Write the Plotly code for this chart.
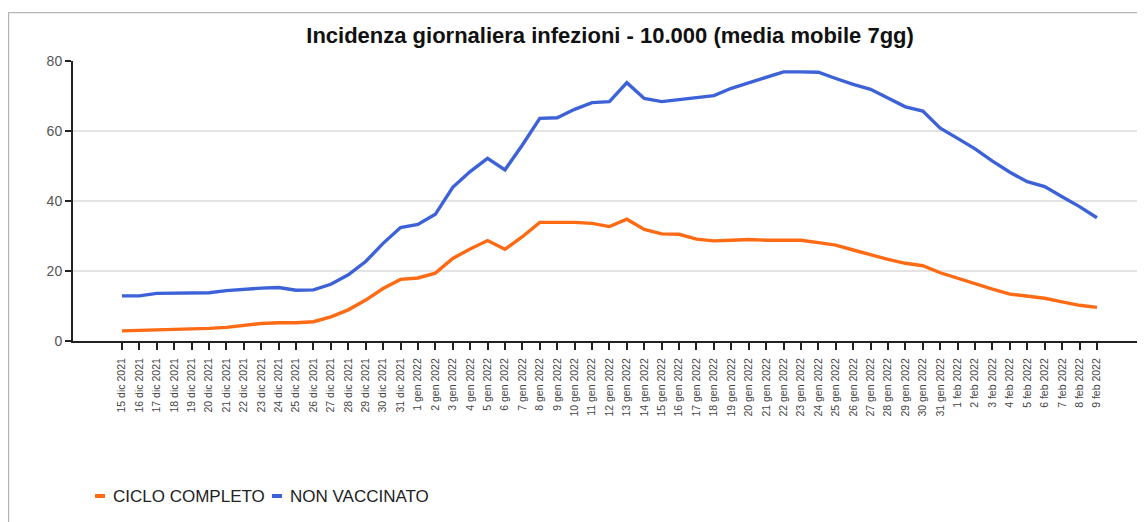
import plotly.graph_objects as go

dates = [
    "15 dic 2021", "16 dic 2021", "17 dic 2021", "18 dic 2021", "19 dic 2021",
    "20 dic 2021", "21 dic 2021", "22 dic 2021", "23 dic 2021", "24 dic 2021",
    "25 dic 2021", "26 dic 2021", "27 dic 2021", "28 dic 2021", "29 dic 2021",
    "30 dic 2021", "31 dic 2021",
    "1 gen 2022", "2 gen 2022", "3 gen 2022", "4 gen 2022", "5 gen 2022",
    "6 gen 2022", "7 gen 2022", "8 gen 2022", "9 gen 2022", "10 gen 2022",
    "11 gen 2022", "12 gen 2022", "13 gen 2022", "14 gen 2022", "15 gen 2022",
    "16 gen 2022", "17 gen 2022", "18 gen 2022", "19 gen 2022", "20 gen 2022",
    "21 gen 2022", "22 gen 2022", "23 gen 2022", "24 gen 2022", "25 gen 2022",
    "26 gen 2022", "27 gen 2022", "28 gen 2022", "29 gen 2022", "30 gen 2022",
    "31 gen 2022",
    "1 feb 2022", "2 feb 2022", "3 feb 2022", "4 feb 2022", "5 feb 2022",
    "6 feb 2022", "7 feb 2022", "8 feb 2022", "9 feb 2022",
]

ciclo_completo = [
    2.9, 3.0, 3.3, 3.4, 3.4, 3.6, 3.9, 4.4, 5.0, 5.2,
    5.2, 5.5, 6.9, 8.9, 11.7, 15.0, 17.6,
    18.0, 19.4, 23.6, 26.3, 28.7, 26.2, 29.8, 33.9, 33.9,
    33.9, 33.6, 32.7, 34.8, 31.9, 30.6, 30.5, 29.1, 28.6,
    28.8, 29.0, 28.8, 28.8, 28.8, 28.1, 27.4, 26.0, 24.6,
    23.3, 22.2, 21.5, 19.5,
    17.9, 16.3, 14.8, 13.4, 12.7, 12.2, 11.2, 10.2, 9.6,
]

non_vaccinato = [
    12.9, 12.9, 13.6, 13.6, 13.6, 13.8, 14.4, 14.8, 15.1, 15.3,
    14.5, 14.6, 16.2, 18.9, 22.7, 27.9, 32.4,
    33.3, 36.2, 43.9, 48.4, 52.2, 48.9, 56.0, 63.6, 63.8,
    66.2, 68.1, 68.4, 73.8, 69.3, 68.4, 68.9, 69.5, 70.1,
    72.2, 73.8, 75.3, 76.9, 76.9, 76.8, 75.0, 73.3, 71.9,
    69.5, 66.9, 65.7, 60.8,
    57.9, 54.9, 51.4, 48.2, 45.5, 44.1, 41.2, 38.4, 35.2,
]

series_names = ["CICLO COMPLETO", "NON VACCINATO"]
series_colors = ["#ff6a14", "#3d62d8"]

y_ticks = [0, 20, 40, 60, 80]

FONT = "Liberation Sans, Arial, sans-serif"

# The page body adds an 8px margin; the figure is sized to fill the rest.
W, H = 1137, 514

fig = go.Figure()
for name, vals, color in zip(series_names, [ciclo_completo, non_vaccinato], series_colors):
    fig.add_trace(go.Scatter(
        x=dates, y=vals, mode="lines", name=name,
        line=dict(color=color, width=3.4), showlegend=False,
    ))

# Compact legend (short thick swatch + label), like the original
legend_y = -0.5536
swatch_x = [(0.0205, 0.0299), (0.1856, 0.1950)]
label_x = [0.0354, 0.2005]
shapes = [
    dict(type="rect", xref="paper", yref="paper",
         x0=-0.0601, x1=1.05, y0=-0.8, y1=1.173,
         line=dict(color="#b5b5b5", width=1.2), layer="below"),
]
annotations = []
for (sx0, sx1), lx, name, color in zip(swatch_x, label_x, series_names, series_colors):
    shapes.append(dict(type="line", xref="paper", yref="paper",
                       x0=sx0, x1=sx1, y0=legend_y, y1=legend_y,
                       line=dict(color=color, width=4)))
    annotations.append(dict(text=name, xref="paper", yref="paper",
                            x=lx, y=legend_y, xanchor="left", yanchor="middle",
                            showarrow=False,
                            font=dict(size=17, color="#222", family=FONT)))

fig.update_layout(
    width=W, height=H,
    margin=dict(l=65, r=0, t=53, b=181),
    paper_bgcolor="white", plot_bgcolor="white",
    font=dict(family=FONT, color="#222"),
    title=dict(
        text="<b>Incidenza giornaliera infezioni - 10.000 (media mobile 7gg)</b>",
        x=0.501, xref="paper", xanchor="center",
        y=1 - 27 / H, yref="container", yanchor="middle",
        font=dict(size=22, color="#111", family=FONT),
    ),
    showlegend=False,
    shapes=shapes,
    annotations=annotations,
)

fig.update_xaxes(
    type="category",
    range=[-2.81, 58.76],
    tickmode="array", tickvals=dates, ticktext=dates,
    tickangle=-90,
    tickfont=dict(size=10.5, color="#444", family=FONT),
    ticks="outside", ticklen=7, tickwidth=2, tickcolor="#222",
    ticklabelstandoff=4,
    showline=True, linecolor="#222", linewidth=2,
    showgrid=False, zeroline=False,
)
fig.update_yaxes(
    range=[0, 80],
    tickmode="array", tickvals=y_ticks,
    tickfont=dict(size=14, color="#555", family=FONT),
    ticks="outside", ticklen=6, tickwidth=2, tickcolor="#222",
    showline=True, linecolor="#222", linewidth=2,
    showgrid=True, gridcolor="#e4e4e4", gridwidth=1.5,
    zeroline=False,
)

fig.write_html("out.html")
